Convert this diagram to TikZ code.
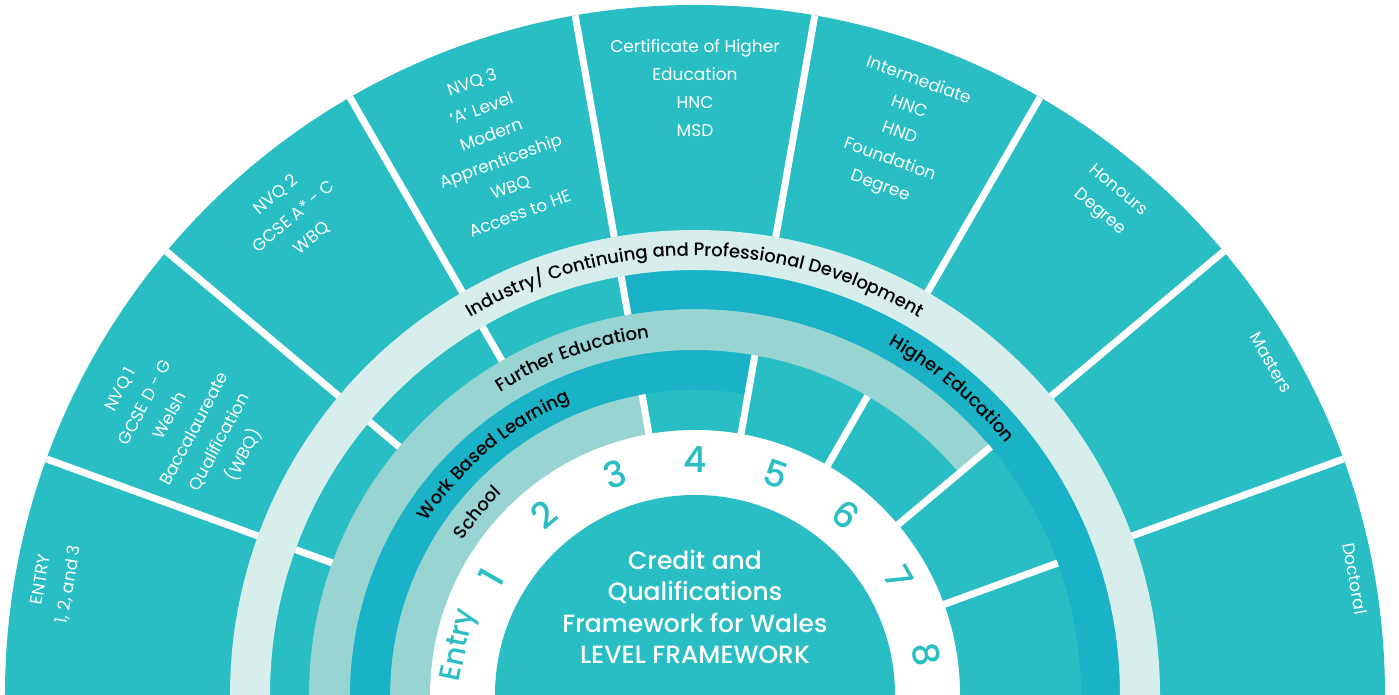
\documentclass[tikz,border=0pt]{standalone}
\usepackage{fontspec}
\setmainfont{Poppins}
\newfontfamily\medfont{Poppins Medium}
\usetikzlibrary{decorations.text}

\definecolor{sectorteal}{RGB}{40,190,196}
\definecolor{deepteal}{RGB}{25,178,198}
\definecolor{paleteal}{RGB}{152,212,209}
\definecolor{mistteal}{RGB}{215,238,236}

\begin{document}
\begin{tikzpicture}[x=1pt,y=1pt,
    divider/.style={draw=white,line width=7pt},
    qual/.style={text=white,align=center,anchor=north,inner sep=0pt,
      font=\fontsize{17}{28}\selectfont},
    levelno/.style={text=sectorteal,inner sep=0pt,font=\medfont\fontsize{36}{36}\selectfont},
    bandlabel/.style={decorate,decoration={text along path,text align=center,
      text={|\medfont\fontsize{18}{18}\selectfont|#1}}}]
    \useasboundingbox (-695,0) rectangle (704,695);
    \fill[sectorteal] (0:690) arc[start angle=0,end angle=180,radius=690] -- cycle;
    \foreach \clr/\rin/\rout/\afrom/\ato in {paleteal/265/305/100/180,
        deepteal/305/345/80/180, paleteal/345/386/40/180,
        deepteal/386/425/0/100, mistteal/425/465/0/180}
      \fill[fill=\clr] (\afrom:\rin) arc[start angle=\afrom,end angle=\ato,radius=\rin]
        -- (\ato:\rout) arc[start angle=\ato,end angle=\afrom,radius=\rout] -- cycle;
    \foreach \a in {20,40,...,160}
      \draw[divider] (\a:465) -- (\a:690);
    \foreach \a in {100,120,140,160}
      \draw[divider] (\a:386) -- (\a:425);
    \foreach \a/\rout in {100/305,80/345,60/345,40/386,20/386}
      \draw[divider] (\a:265) -- (\a:\rout);
    \fill[white] (0:265) arc[start angle=0,end angle=180,radius=265] -- cycle;
    \fill[sectorteal] (0:200) arc[start angle=0,end angle=180,radius=200] -- cycle;

    \path[bandlabel=School] (180:279) arc[start angle=180,end angle=100,radius=279];
    \path[bandlabel=Work Based Learning] (180:319) arc[start angle=180,end angle=80,radius=319];
    \path[bandlabel=Further Education] (180:360) arc[start angle=180,end angle=40,radius=360];
    \path[bandlabel=Higher Education] (100:400) arc[start angle=100,end angle=0,radius=400];
    \path[bandlabel=Industry/ Continuing and Professional Development]
      (180:439) arc[start angle=180,end angle=0,radius=439];

    \node[levelno,rotate=78,font=\medfont\fontsize{29}{29}\selectfont] (entrylevel) at (168:240) {Entry};
    \foreach \n in {1,...,8}
      \node[levelno,rotate=80-20*\n] (level\n) at ({170-20*\n}:235) {\n};

    \node[text=white,align=center,font=\medfont\fontsize{25}{31.5}\selectfont] (cqfw) at (0,88)
      {Credit and\\Qualifications\\Framework for Wales\\LEVEL FRAMEWORK};

    \node[qual,rotate=80] (entryquals) at (170:671) {ENTRY\\1, 2, and 3};
    \node[qual,rotate=62] (nvqone) at (152:658)
      {NVQ 1\\GCSE D - G\\Welsh\\Baccalaureate\\Qualification\\(WBQ)};
    \node[qual,rotate=40] (nvqtwo) at (130:660) {NVQ 2\\GCSE A* - C\\WBQ};
    \node[qual,rotate=20] (nvqthree) at (110:659)
      {NVQ 3\\‘A’ Level\\Modern\\Apprenticeship\\WBQ\\Access to HE};
    \node[qual] (certhe) at (90:656) {Certificate of Higher\\Education\\HNC\\MSD};
    \node[qual,rotate=-20] (intermediate) at (70:662)
      {Intermediate\\HNC\\HND\\Foundation\\Degree};
    \node[qual,rotate=-40] (honours) at (50:666) {Honours\\Degree};
    \node[qual,rotate=-60] (masters) at (30:671) {Masters};
    \node[qual,rotate=-80] (doctoral) at (10:677) {Doctoral};
\end{tikzpicture}
\end{document}
